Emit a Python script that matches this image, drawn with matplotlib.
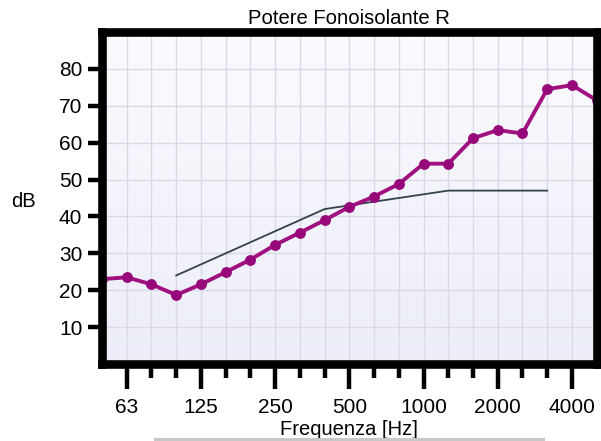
import numpy as np
import matplotlib
matplotlib.use("Agg")
import matplotlib.pyplot as plt
from matplotlib.lines import Line2D

plt.rcParams['font.family'] = ['Liberation Sans', 'DejaVu Sans']

# ---- data ----
bands = ["50", "63", "80", "100", "125", "160", "200", "250", "315", "400", "500",
         "630", "800", "1000", "1250", "1600", "2000", "2500", "3150", "4000", "5000"]
R_values = [23.0, 23.5, 21.6, 18.7, 21.6, 24.9, 28.3, 32.3, 35.6, 39.0, 42.6,
            45.4, 48.8, 54.3, 54.3, 61.2, 63.4, 62.5, 74.5, 75.6, 71.5]
ref_bands = ["100", "125", "160", "200", "250", "315", "400", "500", "630", "800",
             "1000", "1250", "1600", "2000", "2500", "3150"]
ref_values = [24, 27, 30, 33, 36, 39, 42, 43, 44, 45, 46, 47, 47, 47, 47, 47]
major_labels = ["63", "125", "250", "500", "1000", "2000", "4000"]
y_ticks = [10, 20, 30, 40, 50, 60, 70, 80]

title = "Potere Fonoisolante R"
xlabel = "Frequenza [Hz]"
ylabel = "dB"

# ---- figure ----
fig = plt.figure(figsize=(6.01, 4.41), dpi=100)
ax = fig.add_axes([102 / 601, 1 - 364 / 441, (596.7 - 102) / 601, (364 - 32) / 441])

pos = {b: i for i, b in enumerate(bands)}
x = np.array([pos[b] for b in bands])
xr = np.array([pos[b] for b in ref_bands])

# background gradient
grad = np.linspace(0, 1, 256).reshape(-1, 1)
top = np.array([0.985, 0.985, 0.998])
bot = np.array([0.925, 0.930, 0.972])
img = top + (bot - top) * grad[:, :, None]
ax.imshow(img, extent=[0, 1, 0, 1], transform=ax.transAxes, aspect='auto', zorder=0)

# grid
for i in range(1, len(bands) - 1):
    ax.axvline(i, color='#DADAE6', lw=1.0, zorder=1)
for yv in y_ticks:
    ax.axhline(yv, color='#DADAE6', lw=1.0, zorder=1)

# reference curve
ax.plot(xr, ref_values, color='#34424C', lw=1.3, zorder=2)
# measured curve
ax.plot(x, R_values, color='#A0107E', lw=2.8, marker='o', markersize=6.8,
        markerfacecolor='#96087A', markeredgecolor='#96087A', zorder=3)

ax.set_xlim(0, len(bands) - 1)
ax.set_ylim(0, 90)

major_idx = [pos[b] for b in major_labels]
minor_idx = [i for i in range(1, len(bands) - 1) if i not in major_idx]
ax.set_xticks(major_idx)
ax.set_xticklabels(major_labels)
ax.set_xticks(minor_idx, minor=True)
ax.set_yticks(y_ticks)
ax.set_yticklabels([str(v) for v in y_ticks])

ax.tick_params(axis='x', which='major', length=18, width=3.2, pad=6.5,
               labelsize=15, color='black')
ax.tick_params(axis='x', which='minor', length=10, width=3.2, color='black')
ax.tick_params(axis='y', which='major', length=10, width=3.2, pad=4.2,
               labelsize=15, color='black')

for s in ax.spines.values():
    s.set_linewidth(6.2)
    s.set_color('black')
    s.set_capstyle('projecting')
    s.set_zorder(5)

ax.set_title(title, fontsize=14.6, pad=5.8)
ax.set_xlabel(xlabel, fontsize=14.5, labelpad=2)
ax.set_ylabel(ylabel, fontsize=14.5, rotation=0, va='center', ha='center')
ax.yaxis.set_label_coords(-0.158, 0.489)

# light grey bar below the chart
fig.add_artist(Line2D([155 / 601, 543 / 601], [1 - 438.5 / 441, 1 - 438.5 / 441],
                      color='#C8C8C8', lw=2.2, transform=fig.transFigure))

fig.savefig("out.png", dpi=100)
